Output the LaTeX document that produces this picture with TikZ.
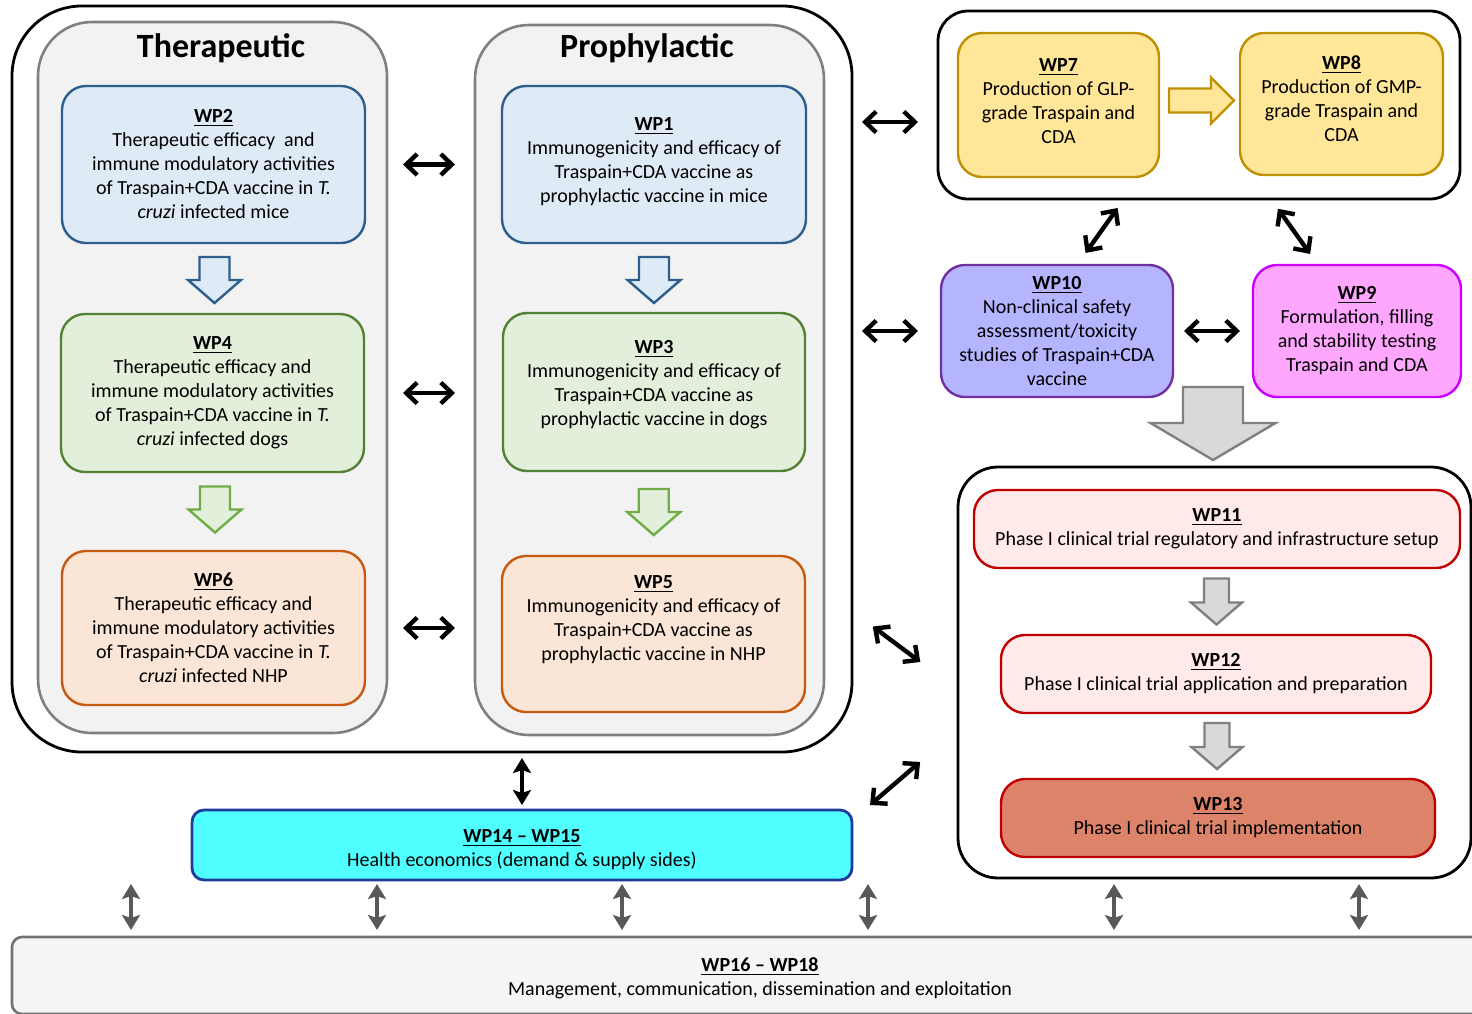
\documentclass[tikz,border=0pt]{standalone}
\usepackage{fontspec}
\setmainfont{Carlito}
\usepackage{tikz}
\usetikzlibrary{arrows.meta, positioning, calc}
\definecolor{mydark}{RGB}{0,0,0}
\definecolor{mygray}{RGB}{242,242,242}
\definecolor{edgegray}{RGB}{128,128,128}
\definecolor{myblue}{RGB}{46,94,140}
\definecolor{hdrblue}{RGB}{222,235,247}
\definecolor{mygreen}{RGB}{84,130,53}
\definecolor{hdrgreen}{RGB}{226,239,218}
\definecolor{lightgreen}{RGB}{112,173,71}
\definecolor{myorange}{RGB}{197,90,17}
\definecolor{hdrorange}{RGB}{251,229,214}
\definecolor{mygold}{RGB}{191,144,0}
\definecolor{hdrgold}{RGB}{255,230,153}
\definecolor{mypurple}{RGB}{112,48,160}
\definecolor{hdrpurple}{RGB}{180,180,255}
\definecolor{mymagenta}{RGB}{204,0,255}
\definecolor{hdrmagenta}{RGB}{255,166,255}
\definecolor{myred}{RGB}{192,0,0}
\definecolor{hdrred}{RGB}{255,233,233}
\definecolor{darkred}{RGB}{220,131,106}
\definecolor{mynavy}{RGB}{32,58,154}
\definecolor{hdrcyan}{RGB}{79,255,255}
\definecolor{mgmtfill}{RGB}{245,245,245}
\definecolor{mgmtedge}{RGB}{118,113,113}
\definecolor{arrgray}{RGB}{217,217,217}
\definecolor{dblgray}{RGB}{89,89,89}
\newcommand{\wpfont}{\fontsize{10}{12}\selectfont}
\newcommand{\titlefont}{\fontsize{17}{20}\selectfont\bfseries}
\newcommand{\wplab}[1]{\underline{\textbf{#1}}}
% block arrow: [rotation]{style}{centre}{body half}{head half}{half length}{head length}
\newcommand{\blockarr}[7][0]{%
  \draw[#2, shift={(#3)}, rotate=#1]
    (-#6,-#4) -- (#6-#7,-#4) -- (#6-#7,-#5) -- (#6,0) -- (#6-#7,#5) -- (#6-#7,#4) -- (-#6,#4) -- cycle;}
\tikzset{
  block/.style={rectangle, draw, rounded corners=12pt, line width=1.2pt, align=center, inner sep=0pt, outer sep=0pt, font=\wpfont},
  blueblock/.style={block, draw=myblue, fill=hdrblue},
  greenblock/.style={block, draw=mygreen, fill=hdrgreen},
  orangeblock/.style={block, draw=myorange, fill=hdrorange},
  goldblock/.style={block, draw=mygold, fill=hdrgold},
  purpleblock/.style={block, draw=mypurple, fill=hdrpurple},
  magentablock/.style={block, draw=mymagenta, fill=hdrmagenta},
  redblock/.style={block, draw=myred, fill=hdrred},
  panel/.style={rectangle, draw=edgegray, fill=mygray, rounded corners=27pt, line width=1.3pt, inner sep=0pt, outer sep=0pt},
  frame/.style={rectangle, draw=mydark, rounded corners=#1, line width=1.4pt, inner sep=0pt, outer sep=0pt},
  dblarrow/.style={{Straight Barb[length=5.5pt,width=10.5pt]}-{Straight Barb[length=5.5pt,width=10.5pt]}, line width=2.2pt, color=mydark},
  vertarrow/.style={{Stealth[length=7.5pt,width=9pt,inset=1.5pt]}-{Stealth[length=7.5pt,width=9pt,inset=1.5pt]}, line width=2.3pt},
  grayarrow/.style={vertarrow, color=dblgray},
  bluearr/.style={draw=myblue, fill=hdrblue, line width=1.2pt},
  greenarr/.style={draw=lightgreen, fill=hdrgreen, line width=1.2pt},
  goldarr/.style={draw=mygold, fill=hdrgold, line width=1.2pt},
  grayarr/.style={draw=edgegray, fill=arrgray, line width=1.2pt}
}
\begin{document}
\begin{tikzpicture}[x=0.5pt, y=-0.5pt]
  \useasboundingbox (0,0) rectangle (1472,1013);

  % Preclinical frame with both panels
  \node[frame=35pt, minimum width=420pt, minimum height=373pt] (preclin) at (432,379) {};
  \node[panel, minimum width=174.5pt, minimum height=355.5pt] (ther) at (212.5,377.5) {};
  \node[panel, minimum width=174.5pt, minimum height=355pt] (proph) at (649.5,380) {};
  \node[font=\titlefont] (thertitle) at (221,48) {Therapeutic};
  \node[font=\titlefont] (prophtitle) at (647,48) {Prophylactic};

  % Therapeutic column
  \node[blueblock, minimum width=151.5pt, minimum height=78.5pt] (WP2) at (213.5,164.5)
    {\wplab{WP2}\\ Therapeutic efficacy~ and\\ immune modulatory activities\\ of Traspain+CDA vaccine in \textit{T.}\\ \textit{cruzi} infected mice};
  \node[greenblock, minimum width=151.5pt, minimum height=79pt] (WP4) at (212.5,393)
    {\wplab{WP4}\\ Therapeutic efficacy and\\ immune modulatory activities\\ of Traspain+CDA vaccine in \textit{T.}\\ \textit{cruzi} infected dogs};
  \node[orangeblock, minimum width=151.5pt, minimum height=77pt] (WP6) at (213.5,628)
    {\wplab{WP6}\\ Therapeutic efficacy and\\ immune modulatory activities\\ of Traspain+CDA vaccine in \textit{T.}\\ \textit{cruzi} infected NHP};

  % Prophylactic column
  \node[blueblock, minimum width=152pt, minimum height=78.5pt] (WP1) at (654,164.5)
    {\wplab{WP1}\\ Immunogenicity and efficacy of\\ Traspain+CDA vaccine as\\ prophylactic vaccine in mice\\[-7.5pt]};
  \node[greenblock, minimum width=151pt, minimum height=79pt] (WP3) at (654,392)
    {\wplab{WP3}\\ Immunogenicity and efficacy of\\ Traspain+CDA vaccine as\\ prophylactic vaccine in dogs\\[-2.5pt]};
  \node[orangeblock, minimum width=151.5pt, minimum height=78pt] (WP5) at (653.5,634)
    {\wplab{WP5}\\ Immunogenicity and efficacy of\\ Traspain+CDA vaccine as\\ prophylactic vaccine in NHP\\[4pt]};

  \blockarr[-90]{bluearr}{$(WP2.south)!0.5!(WP4.north)+(1.5,1.5)$}{15}{26.5}{23}{23}
  \blockarr[-90]{greenarr}{$(WP4.south)!0.5!(WP6.north)+(2,-2)$}{15}{26.5}{23}{23}
  \blockarr[-90]{bluearr}{$(WP1.south)!0.5!(WP3.north)+(0,2)$}{15}{26.5}{23}{23}
  \blockarr[-90]{greenarr}{$(WP3.south)!0.5!(WP5.north)+(0,-1.5)$}{15}{26.5}{23}{23}

  \draw[dblarrow, shorten <=8pt, shorten >=10pt] (WP2.east -| ther.east) -- (WP2.east -| proph.west);
  \draw[dblarrow, shorten <=8pt, shorten >=10pt] (WP4.east -| ther.east) -- (WP4.east -| proph.west);
  \draw[dblarrow, shorten <=8pt, shorten >=10pt] (WP6.east -| ther.east) -- (WP6.east -| proph.west);

  % Production
  \node[frame=15pt, minimum width=261pt, minimum height=94pt] (gmp) at (1199,105) {};
  \node[goldblock, minimum width=100.5pt, minimum height=72pt] (WP7) at (1058.5,105)
    {\wplab{WP7}\\ Production of GLP-\\ grade Traspain and\\ CDA\\[-8.5pt]};
  \node[goldblock, minimum width=101.5pt, minimum height=71pt] (WP8) at (1341.5,104)
    {\wplab{WP8}\\ Production of GMP-\\ grade Traspain and\\ CDA\\[-6.5pt]};
  \blockarr{goldarr}{$(WP7.east)!0.5!(WP8.west)+(2,-4)$}{12}{23}{32.5}{23}

  \node[purpleblock, minimum width=116pt, minimum height=66pt] (WP10) at (1057,331)
    {\wplab{WP10}\\ Non-clinical safety\\ assessment/toxicity\\ studies of Traspain+CDA\\ vaccine};
  \node[magentablock, minimum width=104pt, minimum height=66pt] (WP9) at (1357,331)
    {\wplab{WP9}\\ Formulation, filling\\ and stability testing\\ Traspain and CDA};

  \coordinate (gmpin) at ($(gmp.west)+(0,17)$);
  \draw[dblarrow, shorten <=5pt, shorten >=10pt] (gmpin -| preclin.east) -- (gmpin);
  \draw[dblarrow, shorten <=5pt, shorten >=11.5pt] (WP10.west -| preclin.east) -- (WP10.west);
  \draw[dblarrow, shorten <=5.5pt, shorten >=6.5pt] (WP10.east) -- (WP9.west);
  \draw[dblarrow, shorten <=5.5pt, shorten >=7.4pt] ([xshift=-37.5pt]gmp.south) -- ([xshift=10pt]WP10.north);
  \draw[dblarrow, shorten <=6pt, shorten >=6.8pt] ([xshift=36pt]gmp.south) -- ([xshift=-19.5pt]WP9.north);

  % Clinical trial
  \node[frame=20pt, minimum width=256.5pt, minimum height=205.5pt] (trial) at (1214.5,672.5) {};
  \blockarr[-90]{grayarr}{$(trial.north)+(-1.5,-43.5)$}{30}{62.5}{36.5}{37}
  \node[redblock, minimum width=243pt, minimum height=39pt] (WP11) at (1217,529)
    {\wplab{WP11}\\ Phase I clinical trial regulatory and infrastructure setup};
  \node[redblock, minimum width=215pt, minimum height=39pt] (WP12) at (1216,674)
    {\wplab{WP12}\\ Phase I clinical trial application and preparation};
  \node[redblock, fill=darkred, minimum width=217pt, minimum height=39pt] (WP13) at (1218,818)
    {\wplab{WP13}\\ Phase I clinical trial implementation};
  \blockarr[-90]{grayarr}{$(WP11.south)!0.5!(WP12.north)$}{12.5}{25.5}{23}{22}
  \blockarr[-90]{grayarr}{$(WP12.south)!0.5!(WP13.north)$}{12.5}{25.5}{23}{22}

  \draw[dblarrow, shorten <=13pt, shorten >=23.5pt] ([yshift=-116pt]preclin.east) -- ([yshift=-8.75pt]trial.west);

  % Health economics
  \node[block, draw=mynavy, fill=hdrcyan, rounded corners=6pt, line width=1.4pt, minimum width=330pt, minimum height=35pt] (WP14) at (522,845)
    {\rule{0pt}{11pt}\wplab{WP14 -- WP15}\\ Health economics (demand \& supply sides)};
  \draw[vertarrow, shorten <=3pt, shorten >=2.5pt] (WP14.north |- preclin.south) -- (WP14.north);
  \draw[dblarrow, shorten <=11.9pt, shorten >=25pt] ([yshift=12.25pt]WP14.east) -- ([yshift=-28.4pt]trial.west);

  % Management
  \node[block, draw=mgmtedge, fill=mgmtfill, rounded corners=5pt, line width=1.3pt, minimum width=748pt, minimum height=38.5pt] (mgmt) at (760,975.5)
    {\rule{0pt}{10pt}\wplab{WP16 -- WP18}\\ Management, communication, dissemination and exploitation};
  \foreach \gx [count=\i] in {131,377,622,868,1114,1359} {
    \coordinate (g\i) at (\gx,884);
    \draw[grayarrow, shorten >=3.5pt] (g\i) -- (g\i |- mgmt.north);
  }
\end{tikzpicture}
\end{document}
